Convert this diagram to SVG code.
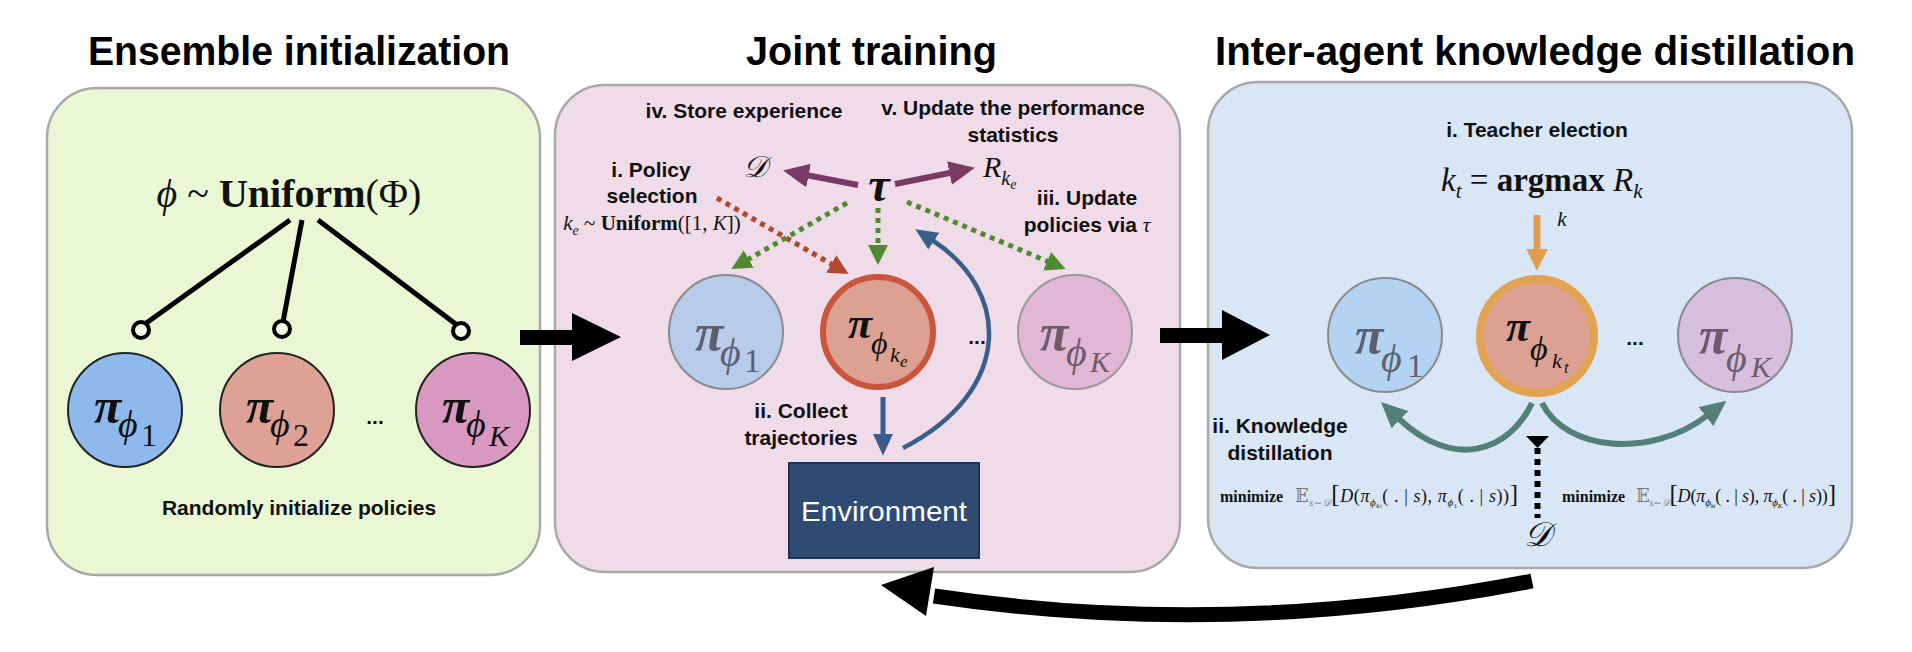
<svg xmlns="http://www.w3.org/2000/svg" width="1912" height="652" viewBox="0 0 1912 652">
<style>
.title{font-family:"Liberation Sans",Arial,sans-serif;font-weight:bold;font-size:40px;fill:#000}
.lbl{font-family:"Liberation Sans",Arial,sans-serif;font-weight:bold;font-size:21px;fill:#111}
.m{font-family:"Liberation Serif","DejaVu Serif",serif;fill:#111}
.i{font-style:italic}
.b{font-weight:bold}
.panel{stroke:#a9a9a9;stroke-width:2.5}
.gray{fill:#5b5f6e}
.dot{fill:none;stroke-width:5;stroke-dasharray:5 5}
</style>
<defs>
<marker id="ahP" markerUnits="userSpaceOnUse" markerWidth="26" markerHeight="24" viewBox="0 0 10 10" refX="1" refY="5" orient="auto" preserveAspectRatio="none"><path d="M0,0L10,5L0,10z" fill="#7a3a66"/></marker>
<marker id="ahG" markerUnits="userSpaceOnUse" markerWidth="20" markerHeight="20" viewBox="0 0 10 10" refX="1" refY="5" orient="auto" preserveAspectRatio="none"><path d="M0,0L10,5L0,10z" fill="#4f8a30"/></marker>
<marker id="ahR" markerUnits="userSpaceOnUse" markerWidth="20" markerHeight="20" viewBox="0 0 10 10" refX="1" refY="5" orient="auto" preserveAspectRatio="none"><path d="M0,0L10,5L0,10z" fill="#b0492f"/></marker>
<marker id="ahB" markerUnits="userSpaceOnUse" markerWidth="22" markerHeight="20" viewBox="0 0 10 10" refX="1" refY="5" orient="auto" preserveAspectRatio="none"><path d="M0,0L10,5L0,10z" fill="#3a5e8b"/></marker>
<marker id="ahT" markerUnits="userSpaceOnUse" markerWidth="26" markerHeight="24" viewBox="0 0 10 10" refX="1" refY="5" orient="auto" preserveAspectRatio="none"><path d="M0,0L10,5L0,10z" fill="#527f76"/></marker>
<marker id="ahO" markerUnits="userSpaceOnUse" markerWidth="22" markerHeight="22" viewBox="0 0 10 10" refX="1" refY="5" orient="auto" preserveAspectRatio="none"><path d="M0,0L10,5L0,10z" fill="#e09f50"/></marker>
</defs>
<rect width="1912" height="652" fill="#fff"/>

<g id="titles">
<text class="title" x="88" y="65" textLength="422" lengthAdjust="spacingAndGlyphs">Ensemble initialization</text>
<text class="title" x="746" y="65" textLength="251" lengthAdjust="spacingAndGlyphs">Joint training</text>
<text class="title" x="1215" y="65" textLength="640" lengthAdjust="spacingAndGlyphs">Inter-agent knowledge distillation</text>
</g>

<g id="panels">
<rect id="panel-init" class="panel" x="47" y="88" width="493" height="487" rx="50" fill="#eaf7d5"/>
<rect id="panel-joint" class="panel" x="555" y="85" width="625" height="487" rx="50" fill="#f0dce8"/>
<rect id="panel-distill" class="panel" x="1208" y="82" width="644" height="486" rx="50" fill="#d8e6f5"/>
</g>

<g id="connectors">
<g stroke="#000" stroke-width="5" fill="none">
<line x1="290" y1="220" x2="145" y2="324"/>
<line x1="302" y1="220" x2="283" y2="322"/>
<line x1="318" y1="220" x2="457" y2="325"/>
</g>
<g fill="#f2fae6" stroke="#000" stroke-width="4">
<circle cx="141" cy="330" r="8"/>
<circle cx="282" cy="329" r="8"/>
<circle cx="461" cy="331" r="8"/>
</g>
<path d="M520,330H572V313L621,337L572,361V345H520Z" fill="#000"/>
<path d="M1160,328H1222V310L1270,335L1222,360V343H1160Z" fill="#000"/>
<path d="M1532,581Q1230,640 934,596" fill="none" stroke="#000" stroke-width="15"/>
<polygon points="881,585 934,567 926,616" fill="#000"/>
<path d="M858,185L806,175" stroke="#7a3a66" stroke-width="6" fill="none" marker-end="url(#ahP)"/>
<path d="M895,184L952,172.5" stroke="#7a3a66" stroke-width="6" fill="none" marker-end="url(#ahP)"/>
<path class="dot" d="M717,198L833,265" stroke="#b0492f" marker-end="url(#ahR)"/>
<path class="dot" d="M847,203L747,260" stroke="#4f8a30" marker-end="url(#ahG)"/>
<path class="dot" d="M878,208L878,247" stroke="#4f8a30" marker-end="url(#ahG)"/>
<path class="dot" d="M907,202L1049,262" stroke="#4f8a30" marker-end="url(#ahG)"/>
<path d="M883,397L883,436" stroke="#3a5e8b" stroke-width="5" fill="none" marker-end="url(#ahB)"/>
<path d="M903,448C1015,390 1010,290 932,240" stroke="#3a5e8b" stroke-width="4.5" fill="none" marker-end="url(#ahB)"/>
<path d="M1537,215L1537,251" stroke="#e09f50" stroke-width="7" fill="none" marker-end="url(#ahO)"/>
<path d="M1532,403C1510,450 1455,472 1398,418" stroke="#527f76" stroke-width="6" fill="none" marker-end="url(#ahT)"/>
<path d="M1542,403C1565,450 1650,460 1708,415" stroke="#527f76" stroke-width="6" fill="none" marker-end="url(#ahT)"/>
<polygon points="1526,436 1549,436 1537.5,448" fill="#000"/>
<path d="M1537.5,448L1537.5,518" stroke="#000" stroke-width="6" stroke-dasharray="6 5" fill="none"/>
</g>

<g id="init-content">
<text class="m" x="289" y="207" text-anchor="middle" font-size="40"><tspan class="i">ϕ</tspan> ~ <tspan class="b">Uniform</tspan>(Φ)</text>
<text class="lbl" x="299" y="515" text-anchor="middle" font-size="20.5">Randomly initialize policies</text>
<text class="lbl" x="375" y="424" text-anchor="middle" font-size="26">...</text>
</g>

<g id="node-init-1">
<circle cx="125" cy="410" r="57" fill="#8db9ec" stroke="#222" stroke-width="2"/>
<text class="m"><tspan x="94" y="423" class="i b" font-size="50">π</tspan><tspan x="118" y="437" class="i" font-size="38">ϕ</tspan><tspan x="141" y="446" font-size="32">1</tspan></text>
</g>
<g id="node-init-2">
<circle cx="277" cy="410" r="57" fill="#dea195" stroke="#222" stroke-width="2"/>
<text class="m"><tspan x="246" y="423" class="i b" font-size="50">π</tspan><tspan x="270" y="437" class="i" font-size="38">ϕ</tspan><tspan x="293" y="446" font-size="32">2</tspan></text>
</g>
<g id="node-init-K">
<circle cx="473" cy="410" r="57" fill="#d898bf" stroke="#222" stroke-width="2"/>
<text class="m"><tspan x="442" y="423" class="i b" font-size="50">π</tspan><tspan x="466" y="437" class="i" font-size="38">ϕ</tspan><tspan x="489" y="446" class="i" font-size="30">K</tspan></text>
</g>

<g id="joint-labels">
<text class="lbl" x="744" y="118" text-anchor="middle" font-size="21.5">iv. Store experience</text>
<text class="lbl" x="1013" y="115" text-anchor="middle" font-size="21.5">v. Update the performance</text>
<text class="lbl" x="1013" y="142" text-anchor="middle" font-size="21.5">statistics</text>
<text class="lbl" x="651" y="177" text-anchor="middle" font-size="21.5">i. Policy</text>
<text class="lbl" x="652" y="203" text-anchor="middle" font-size="21.5">selection</text>
<text class="m" x="652" y="230" text-anchor="middle" font-size="21"><tspan class="i">k</tspan><tspan class="i" font-size="14" dy="5">e</tspan><tspan dy="-5"> ~ </tspan><tspan class="b">Uniform</tspan>([1, <tspan class="i">K</tspan>])</text>
<text class="lbl" x="1087" y="205" text-anchor="middle" font-size="21.5">iii. Update</text>
<text class="lbl" x="1087" y="232" text-anchor="middle" font-size="21.5">policies via <tspan class="m i" font-weight="normal">τ</tspan></text>
<text class="lbl" x="801" y="418" text-anchor="middle" font-size="21.5">ii. Collect</text>
<text class="lbl" x="801" y="445" text-anchor="middle" font-size="21.5">trajectories</text>
<text class="m i" x="755" y="177" text-anchor="middle" font-size="30">𝒟</text>
<text class="m i b" x="879" y="201" text-anchor="middle" font-size="48">τ</text>
<text class="m i" x="983" y="177" font-size="30">R<tspan font-size="20" dy="8">k</tspan><tspan font-size="14" dy="4">e</tspan></text>
<text class="lbl" x="977" y="344" text-anchor="middle" font-size="26">...</text>
</g>

<g id="node-joint-1">
<circle cx="726" cy="332" r="57" fill="#b8cbea" stroke="#8a8a8a" stroke-width="2"/>
<text class="m gray"><tspan x="695" y="350" class="i b" font-size="52">π</tspan><tspan x="720" y="366" class="i" font-size="40">ϕ</tspan><tspan x="744" y="372" font-size="33">1</tspan></text>
</g>
<g id="node-joint-ke">
<circle cx="878" cy="332" r="55" fill="#dca192" stroke="#c9553c" stroke-width="6"/>
<text class="m"><tspan x="848" y="338" class="i b" font-size="44">π</tspan><tspan x="871" y="354" class="i" font-size="32">ϕ</tspan><tspan x="890" y="362" class="i" font-size="22">k</tspan><tspan x="900" y="367" class="i" font-size="17">e</tspan></text>
</g>
<g id="node-joint-K">
<circle cx="1075" cy="332" r="57" fill="#e2b7d6" stroke="#999" stroke-width="2"/>
<text class="m" style="fill:#6d5a6a"><tspan x="1040" y="350" class="i b" font-size="52">π</tspan><tspan x="1066" y="366" class="i" font-size="40">ϕ</tspan><tspan x="1090" y="372" class="i" font-size="30">K</tspan></text>
</g>
<g id="node-environment">
<rect x="789" y="463" width="190" height="95" fill="#2f4b73" stroke="#1f3350" stroke-width="2"/>
<text x="884" y="521" text-anchor="middle" font-family="Liberation Sans, Arial, sans-serif" font-size="28" fill="#fff" textLength="166" lengthAdjust="spacingAndGlyphs">Environment</text>
</g>

<g id="distill-labels">
<text class="lbl" x="1537" y="137" text-anchor="middle" font-size="21">i. Teacher election</text>
<text class="m" x="1441" y="191" font-size="33"><tspan class="i">k</tspan><tspan class="i" font-size="21" dy="7">t</tspan><tspan dy="-7"> = </tspan><tspan class="b">argmax</tspan> <tspan class="i">R</tspan><tspan class="i" font-size="21" dy="7">k</tspan></text>
<text class="m i" x="1562" y="226" text-anchor="middle" font-size="21">k</text>
<text class="lbl" x="1280" y="433" text-anchor="middle" font-size="21.5">ii. Knowledge</text>
<text class="lbl" x="1280" y="460" text-anchor="middle" font-size="21.5">distillation</text>
<text class="lbl" x="1635" y="345" text-anchor="middle" font-size="26">...</text>
<text class="m i" x="1537" y="546" text-anchor="middle" font-size="34">𝒟</text>
<text class="m b" x="1220" y="502" font-size="16">minimize</text>
<text class="m" x="1295" y="502" font-size="18" textLength="223" lengthAdjust="spacing"><tspan fill="#777">𝔼</tspan><tspan class="i" font-size="10" dy="4" fill="#777">s∼𝒟</tspan><tspan dy="-4" font-size="25">[</tspan><tspan class="i">D</tspan>(<tspan class="i">π</tspan><tspan class="i" font-size="11" dy="4">ϕ</tspan><tspan class="i" font-size="7" dy="2">k</tspan><tspan class="i" font-size="6">t</tspan><tspan dy="-6">( . | </tspan><tspan class="i">s</tspan>), <tspan class="i">π</tspan><tspan class="i" font-size="11" dy="4">ϕ</tspan><tspan font-size="7" dy="2">1</tspan><tspan dy="-6">( . | </tspan><tspan class="i">s</tspan>))<tspan font-size="25">]</tspan></text>
<text class="m b" x="1562" y="502" font-size="16">minimize</text>
<text class="m" x="1636" y="502" font-size="18" textLength="200" lengthAdjust="spacing"><tspan fill="#777">𝔼</tspan><tspan class="i" font-size="10" dy="4" fill="#777">s∼𝒟</tspan><tspan dy="-4" font-size="25">[</tspan><tspan class="i">D</tspan>(<tspan class="i">π</tspan><tspan class="i" font-size="11" dy="4">ϕ</tspan><tspan class="i" font-size="7" dy="2">k</tspan><tspan class="i" font-size="6">t</tspan><tspan dy="-6">( . | </tspan><tspan class="i">s</tspan>), <tspan class="i">π</tspan><tspan class="i" font-size="11" dy="4">ϕ</tspan><tspan class="i" font-size="7" dy="2">K</tspan><tspan dy="-6">( . | </tspan><tspan class="i">s</tspan>))<tspan font-size="25">]</tspan></text>
</g>

<g id="node-distill-1">
<circle cx="1385" cy="335" r="57" fill="#b4d3f2" stroke="#8a8a8a" stroke-width="2"/>
<text class="m gray"><tspan x="1355" y="353" class="i b" font-size="52">π</tspan><tspan x="1381" y="372" class="i" font-size="40">ϕ</tspan><tspan x="1407" y="377" font-size="33">1</tspan></text>
</g>
<g id="node-distill-kt">
<circle cx="1537" cy="336" r="57" fill="#dca192" stroke="#e2a353" stroke-width="8"/>
<text class="m"><tspan x="1506" y="341" class="i b" font-size="44">π</tspan><tspan x="1530" y="360" class="i" font-size="34">ϕ</tspan><tspan x="1552" y="368" class="i" font-size="22">k</tspan><tspan x="1564" y="373" class="i" font-size="17">t</tspan></text>
</g>
<g id="node-distill-K">
<circle cx="1735" cy="335" r="57" fill="#d6bfdd" stroke="#8a8a8a" stroke-width="2"/>
<text class="m" style="fill:#6d5a6a"><tspan x="1699" y="353" class="i b" font-size="52">π</tspan><tspan x="1726" y="372" class="i" font-size="40">ϕ</tspan><tspan x="1751" y="377" class="i" font-size="30">K</tspan></text>
</g>
</svg>
